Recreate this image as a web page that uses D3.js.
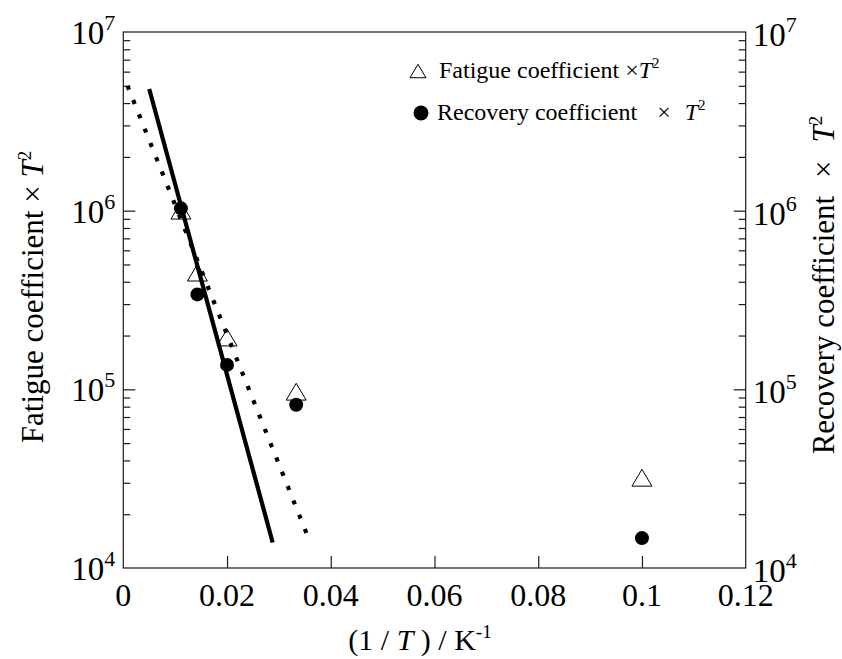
<!DOCTYPE html>
<html>
<head>
<meta charset="utf-8">
<script src="https://cdn.jsdelivr.net/npm/d3@7"></script>
<style>
  body { margin: 0; background: #fff; }
  text { font-family: "Liberation Serif", "Times New Roman", serif; fill: #000; }
</style>
</head>
<body>
<svg id="chart" width="842" height="659"></svg>
<script>
// Reciprocal temperature (1/K) of each measurement
const invT = [1 / 90, 1 / 70, 1 / 50, 1 / 30, 1 / 10];
// Fatigue coefficient x T^2 (open triangles)
const fatigue = [1.0e6, 4.5e5, 1.95e5, 9.7e4, 3.2e4];
// Recovery coefficient x T^2 (filled circles)
const recovery = [1.03e6, 3.4e5, 1.37e5, 8.2e4, 1.47e4];
// Straight-line fits on the semi-log plot: endpoints
const recoveryFitX = [0.005, 0.0288];
const recoveryFitY = [4.8e6, 1.39e4];
const fatigueFitX = [0.0008, 0.0357];
const fatigueFitY = [5.0e6, 1.47e4];
// Axis ticks
const xTicks = [0, 0.02, 0.04, 0.06, 0.08, 0.1, 0.12];
const xTickLabels = ["0", "0.02", "0.04", "0.06", "0.08", "0.1", "0.12"];
const yDecades = [1e4, 1e5, 1e6, 1e7];
const yExponents = ["4", "5", "6", "7"];

const plot = { left: 123.3, right: 745.7, top: 32, bottom: 568 };
const svg = d3.select("#chart");

const x = d3.scaleLinear().domain([0, 0.12]).range([plot.left, plot.right]);
const y = d3.scaleLog().domain([1e4, 1e7]).range([plot.bottom, plot.top]);

// minor log ticks 2..9 in every decade
const minorTicks = [];
yDecades.slice(0, 3).forEach(d => { for (let k = 2; k <= 9; k++) minorTicks.push(d * k); });

const axisColor = "#1a1a1a";

// frame
svg.append("rect")
  .attr("x", plot.left).attr("y", plot.top)
  .attr("width", plot.right - plot.left).attr("height", plot.bottom - plot.top)
  .attr("fill", "none").attr("stroke", axisColor).attr("stroke-width", 1.2);

// bottom axis: inward ticks
const gx = svg.append("g").attr("transform", `translate(0,${plot.bottom})`)
  .call(d3.axisBottom(x).tickValues(xTicks.slice(1, -1)).tickSize(-12).tickFormat(""));
gx.select(".domain").remove();
gx.selectAll("line").attr("stroke", axisColor).attr("stroke-width", 1.2);

svg.append("g").selectAll("text").data(xTicks).join("text")
  .attr("x", d => x(d)).attr("y", plot.bottom + 38)
  .attr("text-anchor", "middle").attr("font-size", 32)
  .text((d, i) => xTickLabels[i]);

// left & right y axes: inward ticks
function yAxis(gen, xpos) {
  const g = svg.append("g").attr("transform", `translate(${xpos},0)`);
  g.append("g").call(gen(y).tickValues(yDecades.slice(1, -1)).tickSize(-12).tickFormat(""));
  g.append("g").call(gen(y).tickValues(minorTicks).tickSize(-7).tickFormat(""));
  g.selectAll(".domain").remove();
  g.selectAll("line").attr("stroke", axisColor).attr("stroke-width", 1.2);
}
yAxis(d3.axisLeft, plot.left);
yAxis(d3.axisRight, plot.right);

// decade labels 10^n on both sides
function decadeLabels(xpos, anchor, shift) {
  const t = svg.append("g").selectAll("text").data(yDecades).join("text")
    .attr("x", xpos).attr("y", d => y(d) + shift)
    .attr("text-anchor", anchor).attr("font-size", 33);
  t.append("tspan").text("10");
  t.append("tspan").attr("font-size", 22).attr("dy", -14).text((d, i) => yExponents[i]);
}
decadeLabels(plot.left - 8, "end", 12);
decadeLabels(plot.right + 7, "start", 14);

// fit lines
const line = d3.line().x(d => x(d[0])).y(d => y(d[1]));
svg.append("path")
  .attr("d", line(fatigueFitX.map((v, i) => [v, fatigueFitY[i]])))
  .attr("fill", "none").attr("stroke", "#000").attr("stroke-width", 4.2)
  .attr("stroke-dasharray", "4.2 11.2");
svg.append("path")
  .attr("d", line(recoveryFitX.map((v, i) => [v, recoveryFitY[i]])))
  .attr("fill", "none").attr("stroke", "#000").attr("stroke-width", 4.2);

// markers
function triPath(cx, cy, w) {
  const h = w * 0.84;
  return `M${cx},${cy - h / 2}L${cx + w / 2},${cy + h / 2}L${cx - w / 2},${cy + h / 2}Z`;
}
svg.append("g").selectAll("path").data(invT).join("path")
  .attr("d", (d, i) => triPath(x(d), y(fatigue[i]), 20))
  .attr("fill", "none").attr("stroke", "#000").attr("stroke-width", 1);
svg.append("g").selectAll("circle").data(invT).join("circle")
  .attr("cx", d => x(d)).attr("cy", (d, i) => y(recovery[i]))
  .attr("r", 7).attr("fill", "#000");

// legend
svg.append("path").attr("d", triPath(418, 71, 16))
  .attr("fill", "none").attr("stroke", "#000").attr("stroke-width", 1);
const l1 = svg.append("text").attr("x", 439).attr("y", 78).attr("font-size", 24);
l1.append("tspan").text("Fatigue coefficient ");
l1.append("tspan").text("×");
l1.append("tspan").attr("font-style", "italic").text("T");
l1.append("tspan").attr("font-size", 15).attr("dy", -10).text("2");

svg.append("circle").attr("cx", 421).attr("cy", 113).attr("r", 7.5).attr("fill", "#000");
const l2 = svg.append("text").attr("x", 437).attr("y", 120).attr("font-size", 24);
l2.append("tspan").text("Recovery coefficient");
l2.append("tspan").attr("dx", 20).text("×");
l2.append("tspan").attr("dx", 14).attr("font-style", "italic").text("T");
l2.append("tspan").attr("font-size", 15).attr("dy", -10).text("2");

// axis titles
const tl = svg.append("text").attr("transform", "translate(43,297) rotate(-90)")
  .attr("text-anchor", "middle").attr("font-size", 31);
tl.append("tspan").text("Fatigue coefficient  ×  ");
tl.append("tspan").attr("font-style", "italic").text("T");
tl.append("tspan").attr("font-size", 19).attr("dy", -12).text("2");

const tr = svg.append("text").attr("transform", "translate(834,285) rotate(-90)")
  .attr("text-anchor", "middle").attr("font-size", 31);
tr.append("tspan").text("Recovery coefficient");
tr.append("tspan").attr("dx", 18).text("×");
tr.append("tspan").attr("dx", 18).attr("font-style", "italic").text("T");
tr.append("tspan").attr("font-size", 19).attr("dy", -12).text("2");

const tb = svg.append("text").attr("x", 420).attr("y", 650)
  .attr("text-anchor", "middle").attr("font-size", 30);
tb.append("tspan").text("(1 / ");
tb.append("tspan").attr("font-style", "italic").text("T");
tb.append("tspan").text(" ) / K");
tb.append("tspan").attr("font-size", 19).attr("dy", -12).text("-1");
</script>
</body>
</html>
